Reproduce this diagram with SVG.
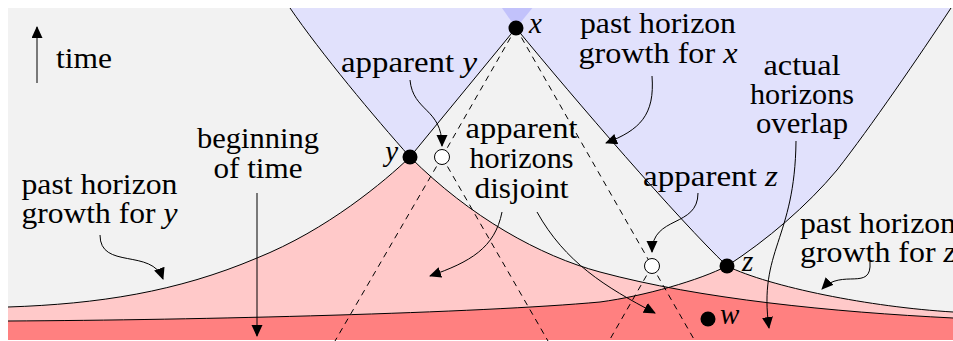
<svg xmlns="http://www.w3.org/2000/svg" width="953" height="341" viewBox="0 0 953 341">
<style>
text{font-family:"Liberation Serif","Times New Roman",serif;font-size:29px;fill:#000}
.it{font-style:italic}
.c{fill:none;stroke:#000;stroke-width:1}
.d{fill:none;stroke:#000;stroke-width:1;stroke-dasharray:6 5}
.a{fill:none;stroke:#000;stroke-width:1;marker-end:url(#ah)}
.dot{fill:#000}
.open{fill:#fff;stroke:#000;stroke-width:1}
</style>
<defs>
<marker id="ah" markerUnits="userSpaceOnUse" markerWidth="13" markerHeight="12" refX="11" refY="5.5" orient="auto"><path d="M0,0 L12,5.5 L0,11 Z" fill="#000"/></marker>
<clipPath id="zc"><path d="M8,321 C200,320 480,313 600,302 C645,296 700,280 727,266 C770,287 870,307 953,312 L953,340 L8,340 Z"/></clipPath>
</defs>
<g id="regions">
<rect x="8" y="8" width="945" height="332" fill="#f2f2f2"/>
<path d="M290,8 C320,52 375,118 410,157 L516,28 L532.4,8 Z" fill="#e1e1fc"/>
<path d="M502,8 L516,28 C576,101 677,218 727,266 C767,240 807,206 837,170 C870,128 920,55 951,8 Z" fill="#e1e1fc"/>
<path d="M502,8 L516,28 L532.4,8 Z" fill="#c2c2fb"/>
<path d="M8,307 C98,304 177,292 257,258 C327,230 385,181 410,157 C470,217 540,256 600,272 C700,299 833,312 953,318 L953,340 L8,340 Z" fill="#ffc9c9"/>
<path d="M8,321 C200,320 480,313 600,302 C645,296 700,280 727,266 C770,287 870,307 953,312 L953,340 L8,340 Z" fill="#ffc9c9"/>
<path d="M8,307 C98,304 177,292 257,258 C327,230 385,181 410,157 C470,217 540,256 600,272 C700,299 833,312 953,318 L953,340 L8,340 Z" fill="#ff8080" clip-path="url(#zc)"/>
</g>
<g id="connectors">
<path class="c" d="M290,8 C320,52 375,118 410,157"/>
<path class="c" d="M410,157 L516,28"/>
<path class="c" d="M516,28 C576,101 677,218 727,266"/>
<path class="c" d="M727,266 C767,240 807,206 837,170 C870,128 920,55 951,8"/>
<path class="c" d="M8,307 C98,304 177,292 257,258 C327,230 385,181 410,157"/>
<path class="c" d="M410,157 C470,217 540,256 600,272 C700,299 833,312 953,318"/>
<path class="c" d="M8,321 C200,320 480,313 600,302 C645,296 700,280 727,266"/>
<path class="c" d="M727,266 C770,287 870,307 953,312"/>
<path class="d" d="M516,28 L442,157"/>
<path class="d" d="M442,157 L335,341"/>
<path class="d" d="M442,157 L548,341"/>
<path class="d" d="M516,28 L652,266"/>
<path class="d" d="M652,266 L609,341"/>
<path class="d" d="M652,266 L695,341"/>
<path class="a" d="M37,83 L37,27"/>
<path class="a" d="M257,193 L257,336"/>
<path class="a" d="M410,80 C413,112 442,108 442,146"/>
<path class="a" d="M652,76 C655,115 640,130 606,143"/>
<path class="a" d="M796,141 C795,240 758,250 769,328"/>
<path class="a" d="M100,235 C100,270 152,248 163,279"/>
<path class="a" d="M502,212 C495,248 470,262 430,276"/>
<path class="a" d="M537,212 C565,262 605,287 655,313"/>
<path class="a" d="M698,193 C698,228 652,215 652,252"/>
<path class="a" d="M870,262 C872,292 842,268 822,289"/>
</g>
<g id="node-x"><circle class="dot" cx="516" cy="28" r="7.5"/><text class="it" x="529" y="33">x</text></g>
<g id="node-y"><circle class="dot" cx="410" cy="157" r="7.5"/><text class="it" x="398" y="161" text-anchor="end">y</text></g>
<g id="node-z"><circle class="dot" cx="727" cy="266" r="7.5"/><text class="it" x="742" y="271">z</text></g>
<g id="node-w"><circle class="dot" cx="708" cy="319" r="7.5"/><text class="it" x="720" y="324">w</text></g>
<g id="node-apparent-y"><circle class="open" cx="442" cy="157" r="7.5"/></g>
<g id="node-apparent-z"><circle class="open" cx="652" cy="266" r="7.5"/></g>
<g id="label-time"><text x="56" y="68" textLength="56" lengthAdjust="spacingAndGlyphs">time</text></g>
<g id="label-apparent-y"><text x="341" y="72" textLength="136" lengthAdjust="spacingAndGlyphs">apparent <tspan class="it">y</tspan></text></g>
<g id="label-growth-x">
<text x="658" y="33" text-anchor="middle" textLength="156" lengthAdjust="spacingAndGlyphs">past horizon</text>
<text x="658" y="63" text-anchor="middle" textLength="159" lengthAdjust="spacingAndGlyphs">growth for <tspan class="it">x</tspan></text>
</g>
<g id="label-overlap">
<text x="802" y="75" text-anchor="middle" textLength="77" lengthAdjust="spacingAndGlyphs">actual</text>
<text x="802" y="104" text-anchor="middle" textLength="104" lengthAdjust="spacingAndGlyphs">horizons</text>
<text x="802" y="133" text-anchor="middle" textLength="92" lengthAdjust="spacingAndGlyphs">overlap</text>
</g>
<g id="label-beginning">
<text x="258" y="148" text-anchor="middle" textLength="122" lengthAdjust="spacingAndGlyphs">beginning</text>
<text x="258" y="178" text-anchor="middle" textLength="89" lengthAdjust="spacingAndGlyphs">of time</text>
</g>
<g id="label-disjoint">
<text x="521.5" y="138" text-anchor="middle" textLength="112" lengthAdjust="spacingAndGlyphs">apparent</text>
<text x="521.5" y="168" text-anchor="middle" textLength="104" lengthAdjust="spacingAndGlyphs">horizons</text>
<text x="521.5" y="198" text-anchor="middle" textLength="94" lengthAdjust="spacingAndGlyphs">disjoint</text>
</g>
<g id="label-growth-y">
<text x="99.5" y="194" text-anchor="middle" textLength="156" lengthAdjust="spacingAndGlyphs">past horizon</text>
<text x="99.5" y="223" text-anchor="middle" textLength="156" lengthAdjust="spacingAndGlyphs">growth for <tspan class="it">y</tspan></text>
</g>
<g id="label-apparent-z"><text x="643" y="186" textLength="135" lengthAdjust="spacingAndGlyphs">apparent <tspan class="it">z</tspan></text></g>
<g id="label-growth-z">
<text x="800" y="233" textLength="156" lengthAdjust="spacingAndGlyphs">past horizon</text>
<text x="800" y="262" textLength="156" lengthAdjust="spacingAndGlyphs">growth for <tspan class="it">z</tspan></text>
</g>
</svg>
